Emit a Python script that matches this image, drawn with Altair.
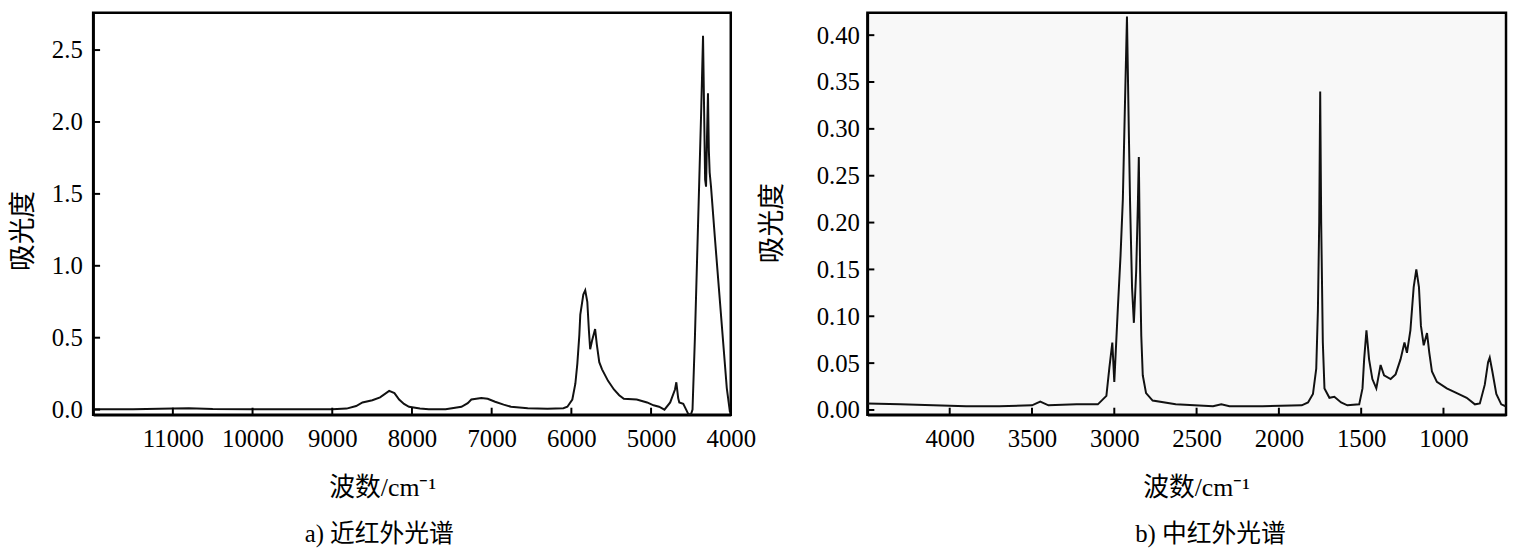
import altair as alt
import pandas as pd

# ---------------- data ----------------
nir_wavenumber = [12000, 11500, 11000, 10800, 10500, 10000, 9500, 9000, 8820, 8700,
                  8621, 8497, 8400, 8286, 8220, 8161, 8100, 8037, 7900, 7789,
                  7578, 7379, 7300, 7255, 7130, 7050, 6957, 6850, 6758, 6547,
                  6300, 6100, 6050, 5988, 5950, 5925, 5900, 5888, 5850, 5826,
                  5800, 5780, 5764, 5740, 5702, 5680, 5650, 5615, 5540, 5466,
                  5400, 5342, 5180, 5050, 4969, 4900, 4832, 4760, 4700, 4683,
                  4660, 4646, 4596, 4560, 4534, 4500, 4480, 4450, 4420, 4390,
                  4370, 4348, 4335, 4322, 4310, 4298, 4286, 4275, 4265, 4248,
                  4200, 4150, 4100, 4050, 4010]
nir_absorbance = [0.003, 0.003, 0.008, 0.010, 0.004, 0.002, 0.003, 0.003, 0.007, 0.025,
                  0.050, 0.065, 0.085, 0.130, 0.115, 0.070, 0.040, 0.020, 0.008, 0.003,
                  0.003, 0.020, 0.045, 0.070, 0.080, 0.075, 0.055, 0.035, 0.020, 0.010,
                  0.006, 0.010, 0.020, 0.070, 0.180, 0.320, 0.520, 0.660, 0.800, 0.830,
                  0.750, 0.550, 0.420, 0.480, 0.560, 0.450, 0.330, 0.280, 0.200, 0.140,
                  0.100, 0.075, 0.070, 0.050, 0.030, 0.020, 0.000, 0.050, 0.140, 0.190,
                  0.080, 0.050, 0.040, 0.000, -0.030, -0.035, 0.000, 0.500, 1.100, 1.700,
                  2.100, 2.600, 2.100, 1.600, 1.550, 1.900, 2.200, 1.800, 1.650, 1.550,
                  1.200, 0.850, 0.500, 0.150, -0.020]

mir_wavenumber = [4500, 4300, 4100, 3900, 3700, 3500, 3450, 3400, 3229, 3100,
                  3048, 3030, 3012, 3000, 2978, 2962, 2948, 2936, 2923, 2912,
                  2904, 2892, 2881, 2867, 2857, 2851, 2843, 2836, 2827, 2807,
                  2767, 2627, 2400, 2350, 2300, 2100, 1861, 1823, 1793, 1773,
                  1763, 1755, 1749, 1743, 1733, 1723, 1693, 1663, 1622, 1584,
                  1512, 1492, 1482, 1468, 1452, 1432, 1408, 1382, 1361, 1321,
                  1291, 1261, 1237, 1222, 1201, 1181, 1165, 1149, 1137, 1120,
                  1100, 1086, 1070, 1040, 980, 919, 859, 809, 779, 749,
                  729, 719, 703, 679, 649, 622]
mir_absorbance = [0.007, 0.006, 0.005, 0.004, 0.004, 0.005, 0.009, 0.005, 0.006, 0.006,
                  0.015, 0.045, 0.072, 0.030, 0.110, 0.165, 0.225, 0.320, 0.420, 0.300,
                  0.220, 0.130, 0.093, 0.148, 0.218, 0.270, 0.148, 0.079, 0.037, 0.018,
                  0.010, 0.006, 0.004, 0.006, 0.004, 0.004, 0.005, 0.008, 0.017, 0.044,
                  0.106, 0.200, 0.340, 0.200, 0.072, 0.023, 0.013, 0.014, 0.008, 0.005,
                  0.006, 0.023, 0.054, 0.085, 0.054, 0.033, 0.023, 0.048, 0.037, 0.033,
                  0.038, 0.054, 0.072, 0.061, 0.085, 0.131, 0.150, 0.131, 0.090, 0.069,
                  0.082, 0.061, 0.041, 0.030, 0.023, 0.018, 0.013, 0.006, 0.007, 0.027,
                  0.051, 0.056, 0.041, 0.017, 0.006, 0.004]

nir_x_ticks = [11000, 10000, 9000, 8000, 7000, 6000, 5000, 4000]
nir_y_ticks = [0.0, 0.5, 1.0, 1.5, 2.0, 2.5]
mir_x_ticks = [4000, 3500, 3000, 2500, 2000, 1500, 1000]
mir_y_ticks = [0.00, 0.05, 0.10, 0.15, 0.20, 0.25, 0.30, 0.35, 0.40]

x_title = "波数/cm⁻¹"
y_title = "吸光度"
nir_caption = "a) 近红外光谱"
mir_caption = "b) 中红外光谱"

FONT = "Liberation Serif, Noto Sans CJK SC, serif"
H = 406


def panel(wn, ab, xticks, yticks, xdom, ydom, yfmt, W, ylab_pad, ytitle_pad,
          ytitle_y, xtitle_x, caption, cap_dx, fill):
    df = pd.DataFrame({"wn": wn, "ab": ab})
    xs = alt.Scale(domain=xdom, reverse=True, nice=False, zero=False)
    ys = alt.Scale(domain=ydom, nice=False, zero=False)
    xaxis = alt.Axis(values=xticks, format="d", tickSize=0, labelPadding=12,
                     grid=False, domainColor="black", domainWidth=2.5,
                     labelFont=FONT, labelFontSize=25, labelColor="black",
                     labelFlush=False, labelOverlap=False,
                     title=x_title, titleFont=FONT, titleFontSize=26,
                     titleFontWeight="normal", titleColor="black",
                     titlePadding=24, titleX=xtitle_x)
    yaxis = alt.Axis(values=yticks, format=yfmt, tickSize=0, labelPadding=ylab_pad,
                     grid=False, domainColor="black", domainWidth=2.5,
                     labelFont=FONT, labelFontSize=25, labelColor="black",
                     labelFlush=False, labelOverlap=False,
                     title=y_title, titleFont=FONT, titleFontSize=27,
                     titleFontWeight="normal", titleColor="black",
                     titlePadding=ytitle_pad, titleY=ytitle_y)
    line = alt.Chart(df).mark_line(color="#111111", strokeWidth=2, clip=True).encode(
        x=alt.X("wn:Q", scale=xs, axis=xaxis),
        y=alt.Y("ab:Q", scale=ys, axis=yaxis),
    )
    yt = pd.DataFrame({"wn": [xdom[0]] * len(yticks), "ab": yticks})
    ytick_layer = alt.Chart(yt).mark_rule(color="black", strokeWidth=2).encode(
        y=alt.Y("ab:Q", scale=ys, axis=yaxis),
        x=alt.value(0), x2=alt.value(7),
    )
    xt = pd.DataFrame({"wn": xticks, "ab": [ydom[0]] * len(xticks)})
    xtick_layer = alt.Chart(xt).mark_rule(color="black", strokeWidth=2).encode(
        x=alt.X("wn:Q", scale=xs, axis=xaxis),
        y=alt.value(H), y2=alt.value(H - 7),
    )
    return alt.layer(line, ytick_layer, xtick_layer).properties(
        width=W, height=H,
        view=alt.ViewBackground(stroke="black", strokeWidth=2.5, fill=fill),
        title=alt.TitleParams(caption, orient="bottom", anchor="middle",
                              font=FONT, fontSize=25, fontWeight="normal",
                              color="black", offset=22, dx=cap_dx),
    )


left = panel(nir_wavenumber, nir_absorbance, nir_x_ticks, nir_y_ticks,
             [4000, 12000], [-0.035, 2.76], ".1f", 644, 11, 14, 220, 292,
             nir_caption, -33, "white")
right = panel(mir_wavenumber, mir_absorbance, mir_x_ticks, mir_y_ticks,
              [620, 4500], [-0.005, 0.424], ".2f", 645, 8, 30, 212, 332,
              mir_caption, 24, "#f8f8f8")

chart = alt.hconcat(left, right, spacing=0).properties(
    padding={"left": 0, "top": 0, "right": 0, "bottom": 0},
    background="white",
)

chart.save("out.html", embed_options={"renderer": "svg", "actions": False})
